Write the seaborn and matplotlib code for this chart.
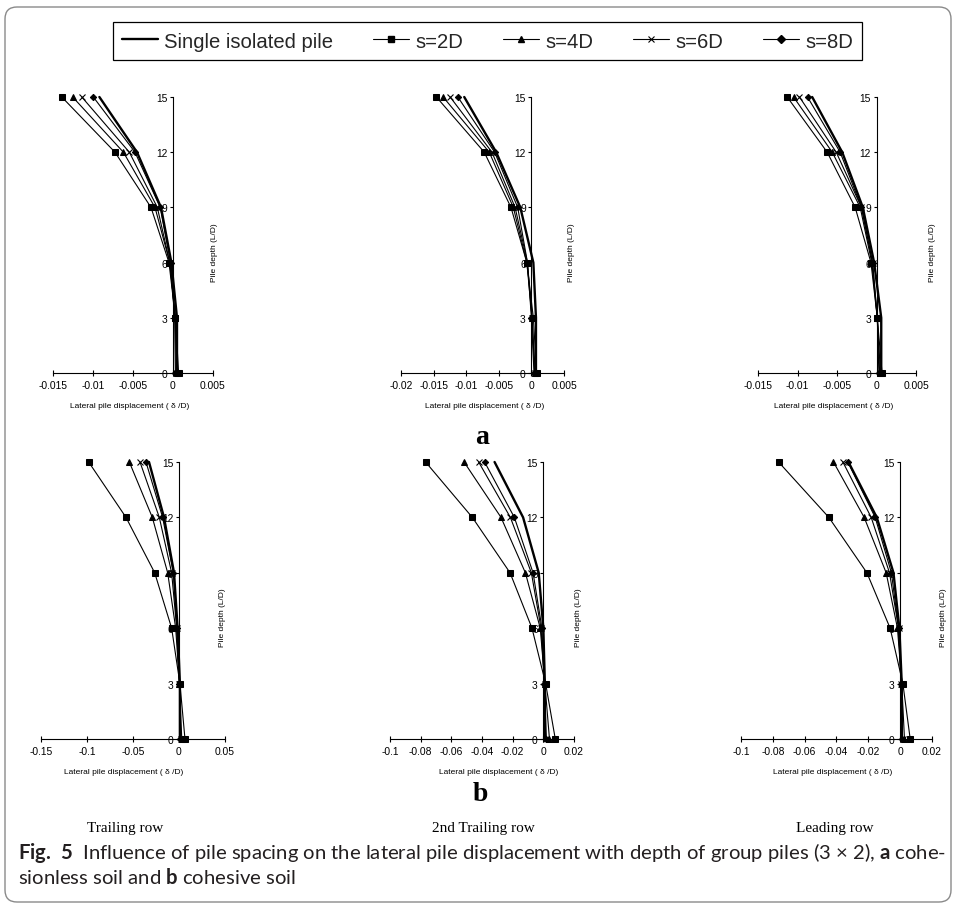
import matplotlib
matplotlib.use("Agg")
import matplotlib.pyplot as plt
import seaborn as sns
import pandas as pd
from matplotlib import font_manager
from matplotlib.lines import Line2D
from matplotlib.patches import FancyBboxPatch

# ---------------- data ----------------
depth = [0, 3, 6, 9, 12, 15]
series = ["Single isolated pile", "s=2D", "s=4D", "s=6D", "s=8D"]

# (a) cohesionless soil
a_trailing = {
    "Single isolated pile": [0.0005, 0.0005, -0.0002, -0.0015, -0.0045, -0.0092],
    "s=2D": [0.0007, 0.0003, -0.0005, -0.00275, -0.00725, -0.0139],
    "s=4D": [0.0005, 0.0003, -0.0004, -0.00225, -0.0062, -0.01254],
    "s=6D": [0.0004, 0.0003, -0.0004, -0.00196, -0.00546, -0.0114],
    "s=8D": [0.0003, 0.0002, -0.0003, -0.0016, -0.00475, -0.00996],
}
a_2nd_trailing = {
    "Single isolated pile": [0.0007, 0.0007, 0.0003, -0.0017, -0.0054, -0.0103],
    "s=2D": [0.0008, 0.0003, -0.0007, -0.00313, -0.00723, -0.01457],
    "s=4D": [0.0006, 0.0001, -0.0007, -0.00277, -0.00646, -0.01354],
    "s=6D": [0.0005, 0.0001, -0.0006, -0.0025, -0.00605, -0.01246],
    "s=8D": [0.0004, 0.0000, -0.0006, -0.0021, -0.00564, -0.01128],
}
a_leading = {
    "Single isolated pile": [0.0006, 0.0006, -0.0003, -0.00173, -0.00434, -0.00814],
    "s=2D": [0.0007, 0.0001, -0.0007, -0.0027, -0.00624, -0.0113],
    "s=4D": [0.0005, 0.0001, -0.0006, -0.00206, -0.0056, -0.0105],
    "s=6D": [0.0004, 0.0001, -0.0005, -0.0019, -0.0051, -0.00975],
    "s=8D": [0.0003, 0.0001, -0.0005, -0.0019, -0.0046, -0.00873],
}
# (b) cohesive soil
b_trailing = {
    "Single isolated pile": [0.001, 0.001, -0.0015, -0.0054, -0.0163, -0.0326],
    "s=2D": [0.0065, 0.001, -0.008, -0.0264, -0.0576, -0.0982],
    "s=4D": [0.003, 0.0005, -0.0036, -0.0123, -0.029, -0.054],
    "s=6D": [0.002, 0.0005, -0.0025, -0.008, -0.0214, -0.0424],
    "s=8D": [0.0015, 0.0005, -0.0022, -0.0062, -0.0178, -0.0359],
}
b_2nd_trailing = {
    "Single isolated pile": [0.001, 0.001, 0.0, -0.003, -0.0132, -0.0318],
    "s=2D": [0.0078, 0.0015, -0.0074, -0.0217, -0.0463, -0.0768],
    "s=4D": [0.004, 0.001, -0.002, -0.0117, -0.0276, -0.0517],
    "s=6D": [0.002, 0.0008, -0.0015, -0.0078, -0.0215, -0.0422],
    "s=8D": [0.0015, 0.0005, -0.0009, -0.0067, -0.0189, -0.0383],
}
b_leading = {
    "Single isolated pile": [0.001, 0.001, -0.0005, -0.0042, -0.0147, -0.0325],
    "s=2D": [0.0063, 0.0017, -0.0063, -0.0209, -0.0448, -0.0764],
    "s=4D": [0.0027, 0.001, -0.0017, -0.0088, -0.0226, -0.0419],
    "s=6D": [0.0015, 0.0008, -0.001, -0.0067, -0.0182, -0.036],
    "s=8D": [0.001, 0.0005, -0.001, -0.0055, -0.0157, -0.0329],
}

x_ticks_a1 = [-0.015, -0.01, -0.005, 0, 0.005]
x_ticks_a2 = [-0.02, -0.015, -0.01, -0.005, 0, 0.005]
x_ticks_a3 = [-0.015, -0.01, -0.005, 0, 0.005]
x_ticks_b1 = [-0.15, -0.1, -0.05, 0, 0.05]
x_ticks_b2 = [-0.1, -0.08, -0.06, -0.04, -0.02, 0, 0.02]
x_ticks_b3 = [-0.1, -0.08, -0.06, -0.04, -0.02, 0, 0.02]
y_ticks = [0, 3, 6, 9, 12, 15]

row_titles = ["Trailing row", "2nd Trailing row", "Leading row"]
x_label = "Lateral pile displacement ( \u03b4 /D)"
y_label = "Pile depth (L/D)"

# ---------------- style ----------------
sns.set_theme(style="white")
plt.rcParams["font.family"] = ["Liberation Sans", "DejaVu Sans"]
plt.rcParams["mathtext.fontset"] = "custom"
plt.rcParams["mathtext.rm"] = "Lato"
plt.rcParams["mathtext.bf"] = "Lato:bold"

names = {f.name for f in font_manager.fontManager.ttflist}
if "Liberation Sans Narrow" in names:
    tick_family, tick_size = "Liberation Sans Narrow", 8.8
else:
    tick_family, tick_size = "Liberation Sans", 7.4

styles = {
    "Single isolated pile": dict(marker=None, linewidth=1.7),
    "s=2D": dict(marker="s", markersize=3.8, linewidth=0.8),
    "s=4D": dict(marker="^", markersize=4.2, linewidth=0.8),
    "s=6D": dict(marker="x", markersize=4.2, markeredgewidth=0.8, linewidth=0.8),
    "s=8D": dict(marker="D", markersize=3.2, linewidth=0.8),
}

W, H = 956, 904
fig = plt.figure(figsize=(W / 100, H / 100), dpi=100)
fig.patch.set_facecolor("white")

panels = [
    (a_trailing, x_ticks_a1, (53, 213, 98, 374), 1.01, 0.478),
    (a_2nd_trailing, x_ticks_a2, (401, 564, 98, 374), 1.047, 0.51),
    (a_leading, x_ticks_a3, (758, 916, 98, 374), 1.105, 0.48),
    (b_trailing, x_ticks_b1, (41, 225, 463, 740), 0.985, 0.45),
    (b_2nd_trailing, x_ticks_b2, (390, 574, 463, 740), 1.027, 0.59),
    (b_leading, x_ticks_b3, (741, 932, 463, 740), 1.058, 0.48),
]

for data, xt, (l, r, t, b), ylx, xlx in panels:
    ax = fig.add_axes([l / W, 1 - b / H, (r - l) / W, (b - t) / H])
    ax.set_facecolor("none")
    # spine placement first (it resets the tick objects)
    for s in ["top", "right"]:
        ax.spines[s].set_visible(False)
    ax.spines["left"].set_position(("data", 0))
    for s in ["left", "bottom"]:
        ax.spines[s].set_color("black")
        ax.spines[s].set_linewidth(0.8)
    for name in series:
        df = pd.DataFrame({"disp": data[name], "depth": depth})
        sns.lineplot(data=df, x="disp", y="depth", sort=False, estimator=None,
                     color="black", markeredgecolor="black", ax=ax,
                     clip_on=False, legend=False, **styles[name])
    ax.set_xlim(xt[0], xt[-1])
    ax.set_ylim(0, 15)
    ax.tick_params(axis="x", bottom=True, direction="inout", length=4,
                   width=0.8, pad=3, colors="black")
    ax.tick_params(axis="y", left=True, direction="out", length=2.5,
                   width=0.8, pad=1.5, colors="black")
    ax.set_xticks(xt, labels=[f"{v:g}" for v in xt],
                  fontfamily=tick_family, fontsize=tick_size)
    ax.set_yticks(y_ticks, labels=[f"{v:g}" for v in y_ticks],
                  fontfamily=tick_family, fontsize=tick_size)
    ax.set_xlabel(x_label, fontsize=6, color="black")
    ax.xaxis.set_label_coords(xlx, -0.105)
    ax.set_ylabel(y_label, fontsize=6, color="black")
    ax.yaxis.set_label_coords(ylx, 0.44)
    ax.yaxis.label.set_verticalalignment("center")
    ax.grid(False)

# legend
handles = [Line2D([], [], color="black", **{k: v for k, v in styles[n].items()
                                              if k != "markersize"},
                  markersize=4.5 if n != "s=8D" else 3.8) for n in series]
leg = fig.legend(handles, series, loc="center", bbox_to_anchor=(487.5 / W, 1 - 42 / H),
                 ncol=5, frameon=True, fancybox=False, edgecolor="black",
                 framealpha=1, prop={"family": "Liberation Sans", "size": 14.6},
                 handlelength=1.8, handletextpad=0.3, columnspacing=1.95,
                 borderpad=0.45)
leg.get_frame().set_linewidth(0.9)

# panel letters and row titles
fig.text(482 / W, 1 - 438 / H, "a", family="Liberation Serif", weight="bold",
         size=20, ha="center", va="center", color="black")
fig.text(480 / W, 1 - 795 / H, "b", family="Liberation Serif", weight="bold",
         size=20, ha="center", va="center", color="black")
for title, xc in zip(row_titles, [125, 483, 835]):
    fig.text(xc / W, 1 - 829 / H, title, family="Liberation Serif", size=11,
             ha="center", va="center", color="black")

# caption
line1 = (r"$\mathbf{Fig.\ 5}$  Influence of pile spacing on the lateral pile displacement "
         "with depth of group piles (3 \u00d7 2), " r"$\mathbf{a}$ cohe-")
line2 = r"sionless soil and $\mathbf{b}$ cohesive soil"
cap1 = fig.text(18 / W, 1 - 853 / H, line1, family="Lato", size=11, ha="left",
                va="center", color="#231f20")
fig.canvas.draw()
w = cap1.get_window_extent(fig.canvas.get_renderer()).width
cap_size = 11 * 927 / w
cap1.set_fontsize(cap_size)
fig.text(18 / W, 1 - 877 / H, line2, family="Lato", size=cap_size, ha="left",
         va="center", color="#231f20")

# rounded outer frame
frame = FancyBboxPatch((5 / 100, 1 / 100), 946 / 100, 895 / 100,
                       boxstyle="round,pad=0,rounding_size=0.12",
                       transform=fig.dpi_scale_trans, facecolor="none",
                       edgecolor="#8a8a8a", linewidth=1.0)
fig.add_artist(frame)

fig.savefig("out.png", dpi=100, facecolor="white")
